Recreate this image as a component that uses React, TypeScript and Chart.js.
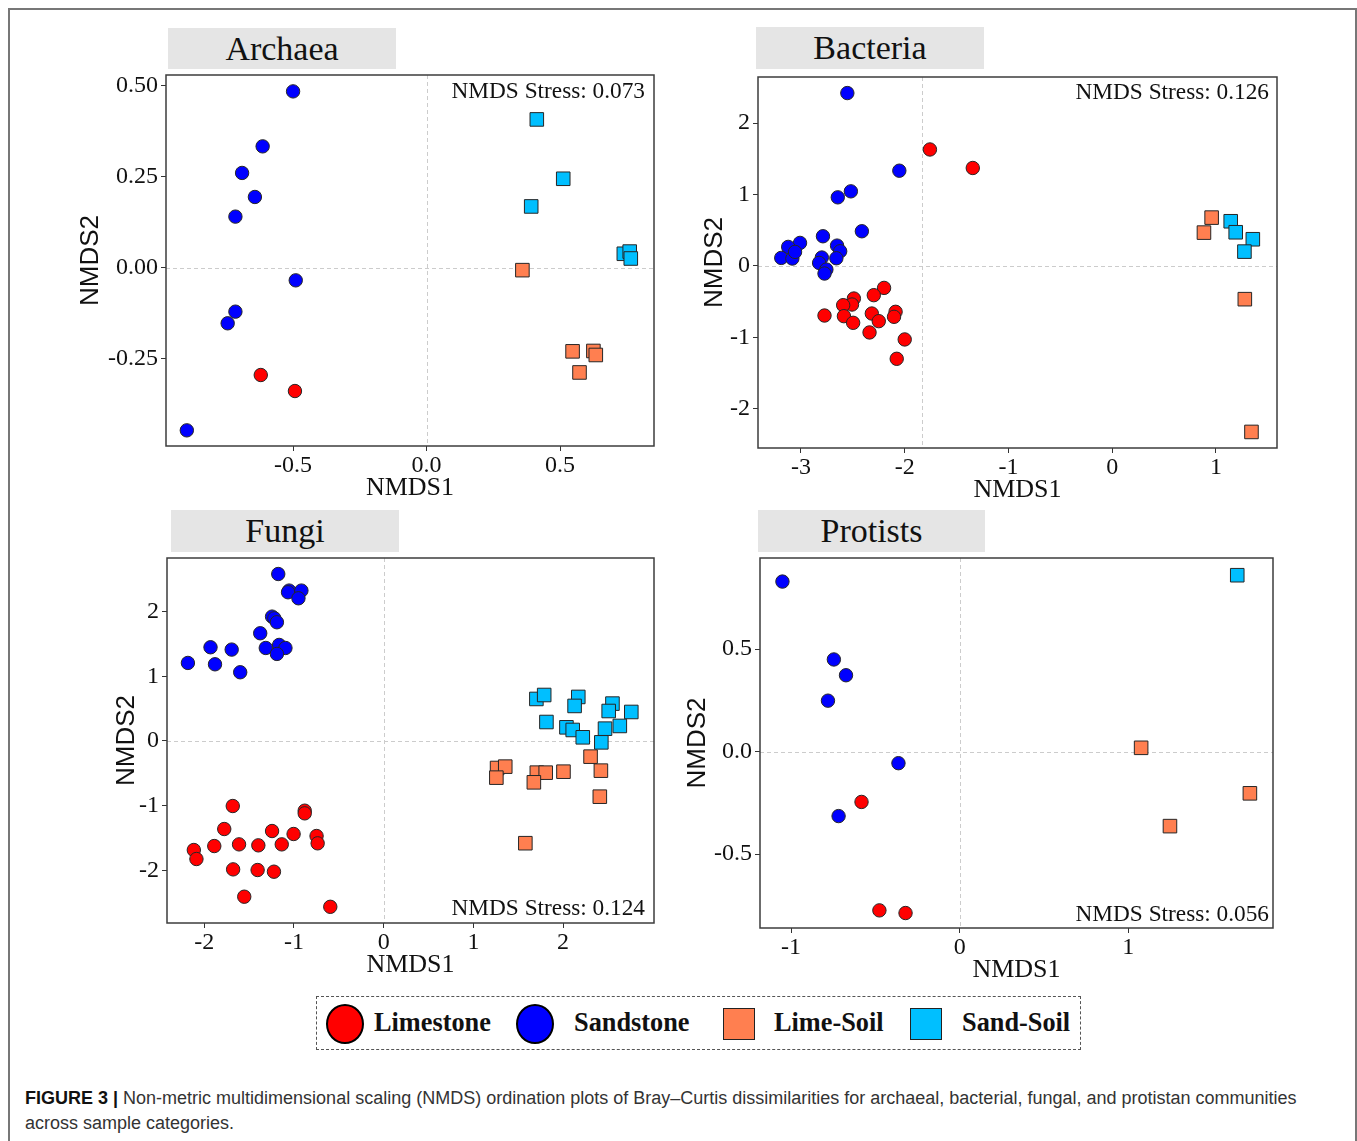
import React, { useEffect, useRef } from 'react';
import { Chart, registerables } from 'chart.js';

Chart.register(...registerables);

// ---------------- DATA ----------------
const groupNames = ['Limestone', 'Sandstone', 'Lime-Soil', 'Sand-Soil'];
const groupColors = ['#FF0000', '#0000FF', '#FF7F50', '#00BFFF'];

// Archaea
const archaeaLimestone = [[-0.621, -0.294], [-0.493, -0.338]];
const archaeaSandstone = [[-0.5, 0.485], [-0.614, 0.334], [-0.691, 0.261], [-0.643, 0.195], [-0.716, 0.141], [-0.49, -0.034], [-0.716, -0.12], [-0.745, -0.152], [-0.898, -0.446]];
const archaeaLimeSoil = [[0.359, -0.006], [0.547, -0.229], [0.625, -0.228], [0.634, -0.239], [0.573, -0.287]];
const archaeaSandSoil = [[0.413, 0.408], [0.512, 0.245], [0.392, 0.169], [0.739, 0.039], [0.761, 0.045], [0.765, 0.026]];
const archaeaXTicks = [-0.5, 0, 0.5];
const archaeaXLabels = ['-0.5', '0.0', '0.5'];
const archaeaYTicks = [-0.25, 0, 0.25, 0.5];
const archaeaYLabels = ['-0.25', '0.00', '0.25', '0.50'];

// Bacteria
const bacteriaLimestone = [[-1.757, 1.63], [-1.344, 1.371], [-2.199, -0.308], [-2.298, -0.41], [-2.49, -0.457], [-2.508, -0.541], [-2.593, -0.55], [-2.773, -0.695], [-2.586, -0.704], [-2.497, -0.797], [-2.317, -0.667], [-2.25, -0.774], [-2.339, -0.932], [-2.088, -0.643], [-2.103, -0.713], [-2.0, -1.03], [-2.077, -1.301]];
const bacteriaSandstone = [[-2.553, 2.42], [-2.052, 1.333], [-2.519, 1.044], [-2.645, 0.96], [-2.413, 0.485], [-2.788, 0.415], [-3.009, 0.322], [-3.123, 0.266], [-3.19, 0.112], [-3.083, 0.103], [-3.057, 0.196], [-2.652, 0.284], [-2.622, 0.205], [-2.659, 0.107], [-2.799, 0.117], [-2.825, 0.042], [-2.755, -0.051], [-2.773, -0.107]];
const bacteriaLimeSoil = [[0.958, 0.676], [0.884, 0.466], [1.278, -0.466], [1.342, -2.325]];
const bacteriaSandSoil = [[1.142, 0.625], [1.19, 0.471], [1.355, 0.373], [1.274, 0.2]];
const bacteriaXTicks = [-3, -2, -1, 0, 1];
const bacteriaXLabels = ['-3', '-2', '-1', '0', '1'];
const bacteriaYTicks = [-2, -1, 0, 1, 2];
const bacteriaYLabels = ['-2', '-1', '0', '1', '2'];

// Fungi
const fungiLimestone = [[-1.682, -1.004], [-0.88, -1.076], [-0.88, -1.117], [-1.777, -1.359], [-1.244, -1.39], [-1.004, -1.436], [-0.748, -1.467], [-0.736, -1.58], [-1.888, -1.622], [-1.612, -1.596], [-1.397, -1.611], [-1.136, -1.596], [-2.116, -1.683], [-2.087, -1.822], [-1.678, -1.982], [-1.405, -1.992], [-1.223, -2.018], [-1.554, -2.404], [-0.595, -2.56]];
const fungiSandstone = [[-1.175, 2.578], [-1.054, 2.322], [-1.066, 2.296], [-0.917, 2.322], [-0.95, 2.203], [-1.244, 1.92], [-1.219, 1.894], [-1.19, 1.833], [-1.376, 1.663], [-1.314, 1.436], [-1.165, 1.483], [-1.095, 1.436], [-1.19, 1.344], [-1.93, 1.447], [-1.694, 1.411], [-2.182, 1.205], [-1.88, 1.184], [-1.599, 1.061]];
const fungiLimeSoil = [[2.306, -0.242], [1.264, -0.417], [1.355, -0.396], [1.256, -0.566], [1.707, -0.489], [1.806, -0.489], [1.674, -0.638], [2.004, -0.474], [2.421, -0.458], [2.409, -0.86], [1.579, -1.578]];
const fungiSandSoil = [[1.702, 0.649], [1.789, 0.71], [2.169, 0.68], [2.128, 0.541], [2.55, 0.577], [2.508, 0.463], [2.76, 0.448], [1.814, 0.293], [2.037, 0.211], [2.107, 0.17], [2.467, 0.19], [2.632, 0.232], [2.219, 0.057], [2.426, -0.021]];
const fungiXTicks = [-2, -1, 0, 1, 2];
const fungiXLabels = ['-2', '-1', '0', '1', '2'];
const fungiYTicks = [-2, -1, 0, 1, 2];
const fungiYLabels = ['-2', '-1', '0', '1', '2'];

// Protists
const protistsLimestone = [[-0.582, -0.246], [-0.476, -0.775], [-0.321, -0.788]];
const protistsSandstone = [[-1.051, 0.829], [-0.746, 0.449], [-0.674, 0.372], [-0.781, 0.248], [-0.363, -0.057], [-0.718, -0.315]];
const protistsLimeSoil = [[1.076, 0.018], [1.721, -0.204], [1.247, -0.364]];
const protistsSandSoil = [[1.646, 0.86]];
const protistsXTicks = [-1, 0, 1];
const protistsXLabels = ['-1', '0', '1'];
const protistsYTicks = [-0.5, 0, 0.5];
const protistsYLabels = ['-0.5', '0.0', '0.5'];

const stressLabels = ['NMDS Stress: 0.073', 'NMDS Stress: 0.126', 'NMDS Stress: 0.124', 'NMDS Stress: 0.056'];
const captionBold = 'FIGURE 3 |';
const captionLine1 = ' Non-metric multidimensional scaling (NMDS) ordination plots of Bray\u2013Curtis dissimilarities for archaeal, bacterial, fungal, and protistan communities';
const captionLine2 = 'across sample categories.';

// ---------------- LAYOUT ----------------
type PanelCfg = {
  title: string;
  stress: string;
  stressPos: 'top' | 'bottom';
  stressInsetX: number;
  stressInsetY: number;
  frame: { l: number; t: number; r: number; b: number };
  yTitleX: number;
  xTitleY: number;
  strip: { l: number; t: number; w: number; h: number };
  xRange: [number, number];
  yRange: [number, number];
  refX: number;
  refY: number;
  series: number[][][];
  xTicks: number[];
  xLabels: string[];
  yTicks: number[];
  yLabels: string[];
};

const panels: PanelCfg[] = [
  {
    title: 'Archaea', stress: stressLabels[0], stressPos: 'top', stressInsetX: 9, stressInsetY: 17,
    frame: { l: 166, t: 75, r: 654, b: 446 }, yTitleX: 91, xTitleY: 488,
    strip: { l: 168, t: 28, w: 228, h: 41 },
    xRange: [-0.976, 0.852], yRange: [-0.489, 0.53], refX: 0, refY: 0,
    series: [archaeaLimestone, archaeaSandstone, archaeaLimeSoil, archaeaSandSoil],
    xTicks: archaeaXTicks, xLabels: archaeaXLabels, yTicks: archaeaYTicks, yLabels: archaeaYLabels,
  },
  {
    title: 'Bacteria', stress: stressLabels[1], stressPos: 'top', stressInsetX: 8, stressInsetY: 16,
    frame: { l: 758, t: 77, r: 1277, b: 448 }, yTitleX: 715, xTitleY: 490,
    strip: { l: 756, t: 27, w: 228, h: 42 },
    xRange: [-3.414, 1.588], yRange: [-2.55, 2.645], refX: -1.833, refY: 0,
    series: [bacteriaLimestone, bacteriaSandstone, bacteriaLimeSoil, bacteriaSandSoil],
    xTicks: bacteriaXTicks, xLabels: bacteriaXLabels, yTicks: bacteriaYTicks, yLabels: bacteriaYLabels,
  },
  {
    title: 'Fungi', stress: stressLabels[2], stressPos: 'bottom', stressInsetX: 9, stressInsetY: 14,
    frame: { l: 167, t: 558, r: 654, b: 923 }, yTitleX: 127, xTitleY: 965,
    strip: { l: 171, t: 510, w: 228, h: 42 },
    xRange: [-2.415, 3.013], yRange: [-2.81, 2.825], refX: 0, refY: 0,
    series: [fungiLimestone, fungiSandstone, fungiLimeSoil, fungiSandSoil],
    xTicks: fungiXTicks, xLabels: fungiXLabels, yTicks: fungiYTicks, yLabels: fungiYLabels,
  },
  {
    title: 'Protists', stress: stressLabels[3], stressPos: 'bottom', stressInsetX: 4, stressInsetY: 13,
    frame: { l: 760, t: 558, r: 1273, b: 928 }, yTitleX: 698, xTitleY: 970,
    strip: { l: 758, t: 510, w: 227, h: 42 },
    xRange: [-1.184, 1.858], yRange: [-0.861, 0.944], refX: 0, refY: 0,
    series: [protistsLimestone, protistsSandstone, protistsLimeSoil, protistsSandSoil],
    xTicks: protistsXTicks, xLabels: protistsXLabels, yTicks: protistsYTicks, yLabels: protistsYLabels,
  },
];

const SERIF = "'Liberation Serif', 'Times New Roman', serif";
const SANS = "'Liberation Sans', Arial, sans-serif";

const framePlugin = {
  id: 'nmdsFrame',
  beforeDatasetsDraw(chart: any, _args: any, opts: any) {
    const { ctx, chartArea: a, scales } = chart;
    ctx.save();
    ctx.strokeStyle = '#cccccc';
    ctx.lineWidth = 1;
    ctx.setLineDash([4, 3]);
    const px = Math.round(scales.x.getPixelForValue(opts.refX)) + 0.5;
    const py = Math.round(scales.y.getPixelForValue(opts.refY)) + 0.5;
    ctx.beginPath();
    ctx.moveTo(px, a.top);
    ctx.lineTo(px, a.bottom);
    ctx.moveTo(a.left, py);
    ctx.lineTo(a.right, py);
    ctx.stroke();
    ctx.restore();
  },
  afterDraw(chart: any, _args: any, opts: any) {
    const { ctx, chartArea: a } = chart;
    ctx.save();
    ctx.strokeStyle = '#3c3c3c';
    ctx.lineWidth = 1.5;
    ctx.strokeRect(a.left, a.top, a.right - a.left, a.bottom - a.top);
    ctx.fillStyle = '#111';
    ctx.font = `23.3px ${SERIF}`;
    ctx.textAlign = 'right';
    ctx.textBaseline = 'middle';
    const ty = opts.stressPos === 'top' ? a.top + opts.insetY : a.bottom - opts.insetY;
    ctx.fillText(opts.stress, a.right - opts.insetX, ty);
    ctx.restore();
  },
};

function Panel({ cfg }: { cfg: PanelCfg }) {
  const ref = useRef<HTMLCanvasElement>(null);
  const left = cfg.yTitleX - 22;
  const top = cfg.frame.t - 6;
  const right = cfg.frame.r + 6;
  const bottom = cfg.xTitleY + 18;
  const W = right - left;
  const H = bottom - top;

  useEffect(() => {
    if (!ref.current) return;
    const yAxisW = cfg.frame.l - left;
    const xAxisH = bottom - cfg.frame.b;
    const datasets = cfg.series.map((pts, i) => ({
      label: groupNames[i],
      data: pts.map(([x, y]) => ({ x, y })),
      pointStyle: i < 2 ? 'circle' : 'rect',
      pointRadius: i < 2 ? 6.7 : 9.6,
      pointBackgroundColor: groupColors[i],
      pointBorderColor: '#262626',
      pointBorderWidth: 1,
      backgroundColor: groupColors[i],
      borderColor: '#262626',
      showLine: false,
    }));
    const tickFont = { family: SERIF, size: 24 };
    const chart = new Chart(ref.current, {
      type: 'scatter',
      data: { datasets: datasets as any },
      options: {
        animation: false,
        responsive: false,
        maintainAspectRatio: false,
        events: [],
        layout: { autoPadding: false, padding: { left: 0, top: 6, right: 6, bottom: 0 } } as any,
        plugins: {
          legend: { display: false },
          tooltip: { enabled: false },
          nmdsFrame: {
            refX: cfg.refX, refY: cfg.refY, stress: cfg.stress, stressPos: cfg.stressPos,
            insetX: cfg.stressInsetX, insetY: cfg.stressInsetY,
          },
        } as any,
        scales: {
          x: {
            type: 'linear',
            position: 'bottom',
            min: cfg.xRange[0],
            max: cfg.xRange[1],
            afterBuildTicks: (s: any) => { s.ticks = cfg.xTicks.map((v) => ({ value: v })); },
            afterFit: (s: any) => { s.height = xAxisH; s.paddingLeft = 0; s.paddingRight = 0; s.paddingTop = 0; s.paddingBottom = 0; },
            ticks: {
              autoSkip: false, maxRotation: 0, minRotation: 0, padding: 0, color: '#111', font: tickFont,
              callback: (v: any) => { const k = cfg.xTicks.indexOf(Number(v)); return k >= 0 ? cfg.xLabels[k] : ''; },
            },
            grid: { drawOnChartArea: false, drawTicks: true, tickLength: 5, color: '#333', lineWidth: 1 },
            border: { display: false },
            title: {
              display: true, text: 'NMDS1', color: '#111',
              font: { family: SERIF, size: 26 }, padding: { top: 0, bottom: 2.4 },
            },
          },
          y: {
            type: 'linear',
            position: 'left',
            min: cfg.yRange[0],
            max: cfg.yRange[1],
            afterBuildTicks: (s: any) => { s.ticks = cfg.yTicks.map((v) => ({ value: v })); },
            afterFit: (s: any) => { s.width = yAxisW; s.paddingLeft = 0; s.paddingRight = 0; s.paddingTop = 0; s.paddingBottom = 0; },
            ticks: {
              autoSkip: false, padding: 3, color: '#111', font: tickFont,
              callback: (v: any) => { const k = cfg.yTicks.indexOf(Number(v)); return k >= 0 ? cfg.yLabels[k] : ''; },
            },
            grid: { drawOnChartArea: false, drawTicks: true, tickLength: 5, color: '#333', lineWidth: 1 },
            border: { display: false },
            title: {
              display: true, text: 'NMDS2', color: '#111',
              font: { family: SANS, size: 26 }, padding: { top: 6.4, bottom: 0 },
            },
          },
        },
      } as any,
      plugins: [framePlugin],
    });
    return () => chart.destroy();
  }, []);

  return (
    <>
      <div
        style={{
          position: 'absolute', left: cfg.strip.l, top: cfg.strip.t, width: cfg.strip.w, height: cfg.strip.h,
          background: '#e5e5e5', color: '#111', fontFamily: SERIF, fontSize: 34,
          lineHeight: `${cfg.strip.h}px`, textAlign: 'center',
        }}
      >
        {cfg.title}
      </div>
      <canvas
        ref={ref}
        width={W}
        height={H}
        style={{ position: 'absolute', left, top, width: W, height: H }}
      />
    </>
  );
}

function LegendBox() {
  const text = (label: string, x: number) => (
    <div style={{ position: 'absolute', left: x, top: 1008, fontFamily: SERIF, fontWeight: 'bold', fontSize: 26.3, lineHeight: '30px', color: '#111', whiteSpace: 'nowrap' }}>
      {label}
    </div>
  );
  return (
    <>
      <div style={{ position: 'absolute', left: 316, top: 996, width: 765, height: 54, border: '1px dashed #555', boxSizing: 'border-box' }} />
      <div style={{ position: 'absolute', left: 326, top: 1004, width: 38, height: 40, borderRadius: '50%', background: groupColors[0], border: '2px solid #000', boxSizing: 'border-box' }} />
      {text(groupNames[0], 374)}
      <div style={{ position: 'absolute', left: 516, top: 1004, width: 38, height: 40, borderRadius: '50%', background: groupColors[1], border: '2px solid #000', boxSizing: 'border-box' }} />
      {text(groupNames[1], 574)}
      <div style={{ position: 'absolute', left: 723, top: 1008, width: 32, height: 32, background: groupColors[2], border: '1.5px solid #222', boxSizing: 'border-box' }} />
      {text(groupNames[2], 774)}
      <div style={{ position: 'absolute', left: 910, top: 1008, width: 32, height: 32, background: groupColors[3], border: '1.5px solid #222', boxSizing: 'border-box' }} />
      {text(groupNames[3], 962)}
    </>
  );
}

export default function App() {
  return (
    <div style={{ position: 'fixed', left: 0, top: 0, width: 1357, height: 1141, overflow: 'hidden', background: '#fff' }}>
      <div style={{ position: 'absolute', left: 8, top: 8, width: 1349, height: 1200, borderTop: '2px solid #777', borderLeft: '2px solid #777', borderRight: '2px solid #777', boxSizing: 'border-box' }} />
      {panels.map((p) => (
        <Panel key={p.title} cfg={p} />
      ))}
      <LegendBox />
      <div style={{ position: 'absolute', left: 25, top: 1086, fontFamily: SANS, fontSize: 18, lineHeight: '25px', color: '#333', whiteSpace: 'nowrap' }}>
        <b style={{ color: '#111' }}>{captionBold}</b>
        {captionLine1}
        <br />
        {captionLine2}
      </div>
    </div>
  );
}
